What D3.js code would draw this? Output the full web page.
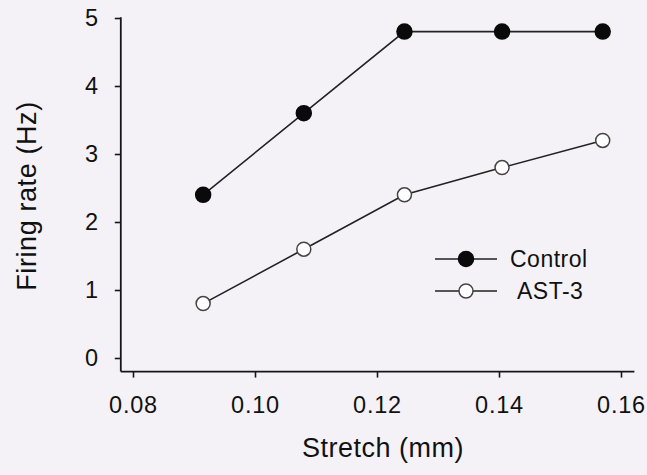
<!DOCTYPE html>
<html>
<head>
<meta charset="utf-8">
<script src="https://cdn.jsdelivr.net/npm/d3@7"></script>
<style>
  body { margin: 0; background: #f4f2f7; }
  svg { display: block; }
  text { font-family: "Liberation Sans", Arial, sans-serif; fill: #111; }
</style>
</head>
<body>
<div id="chart"></div>
<script>
// data
const stretch = [0.0915, 0.108, 0.1245, 0.1405, 0.157];
const control = [2.4, 3.6, 4.8, 4.8, 4.8];
const ast3 = [0.8, 1.6, 2.4, 2.8, 3.2];
const xTicks = [0.08, 0.10, 0.12, 0.14, 0.16];
const yTicks = [0, 1, 2, 3, 4, 5];
const seriesNames = ["Control", "AST-3"];

const w = 647, h = 475;

const x = d3.scaleLinear().domain([0.08, 0.16]).range([133, 621]);
const y = d3.scaleLinear().domain([0, 5]).range([358, 18]);

const svg = d3.select("#chart").append("svg")
    .attr("width", w)
    .attr("height", h);

svg.append("rect")
    .attr("width", w).attr("height", h)
    .attr("fill", "#f4f2f7");

const ink = "#161616";

// axes
const xAxis = d3.axisBottom(x)
    .tickValues(xTicks)
    .tickFormat(d3.format(".2f"))
    .tickSize(6)
    .tickSizeOuter(0)
    .tickPadding(19);

const yAxis = d3.axisLeft(y)
    .tickValues(yTicks)
    .tickFormat(d3.format("d"))
    .tickSize(6)
    .tickSizeOuter(0)
    .tickPadding(16);

const xg = svg.append("g")
    .attr("transform", `translate(0, ${y(-0.2)})`)
    .call(xAxis);

const yg = svg.append("g")
    .attr("transform", `translate(${x(0.078)}, 0)`)
    .call(yAxis);

[xg, yg].forEach(g => {
  g.select(".domain").remove();
  g.selectAll(".tick line").attr("stroke", ink).attr("stroke-width", 1.6);
  g.selectAll(".tick text")
    .attr("font-size", 23.5)
    .attr("letter-spacing", "0.8px")
    .attr("fill", "#111");
});

// axis lines
svg.append("line")
    .attr("x1", x(0.078)).attr("x2", x(0.1622))
    .attr("y1", y(-0.2)).attr("y2", y(-0.2))
    .attr("stroke", ink).attr("stroke-width", 1.8);

svg.append("line")
    .attr("x1", x(0.078)).attr("x2", x(0.078))
    .attr("y1", y(5) - 0.8).attr("y2", y(-0.2))
    .attr("stroke", ink).attr("stroke-width", 1.8);

// axis titles
svg.append("text")
    .attr("x", 383)
    .attr("y", 457)
    .attr("text-anchor", "middle")
    .attr("font-size", 27)
    .attr("letter-spacing", "0.5px")
    .text("Stretch (mm)");

svg.append("text")
    .attr("transform", "translate(36, 196) rotate(-90)")
    .attr("text-anchor", "middle")
    .attr("font-size", 27)
    .attr("letter-spacing", "0.6px")
    .text("Firing rate (Hz)");

// lines and markers
const line = d3.line()
    .x((d, i) => x(stretch[i]))
    .y(d => y(d));

const series = [
  {name: seriesNames[0], values: control, fill: "#0a0a0a", stroke: "#0a0a0a"},
  {name: seriesNames[1], values: ast3, fill: "#ffffff", stroke: "#444"}
];

series.forEach(s => {
  svg.append("path")
      .datum(s.values)
      .attr("d", line)
      .attr("fill", "none")
      .attr("stroke", "#222")
      .attr("stroke-width", 1.6);

  svg.append("g").selectAll("circle")
      .data(s.values)
    .enter().append("circle")
      .attr("cx", (d, i) => x(stretch[i]))
      .attr("cy", d => y(d))
      .attr("r", s.name == "Control" ? 7.5 : 7)
      .attr("fill", s.fill)
      .attr("stroke", s.stroke)
      .attr("stroke-width", 1.5);
});

// legend
const legend = svg.append("g").attr("transform", "translate(435, 259)");
series.forEach((s, i) => {
  const g = legend.append("g").attr("transform", `translate(0, ${i * 32})`);
  g.append("line")
      .attr("x1", 0).attr("x2", 62)
      .attr("stroke", "#222").attr("stroke-width", 1.6);
  g.append("circle")
      .attr("cx", 31).attr("cy", 0)
      .attr("r", s.name == "Control" ? 7.5 : 7)
      .attr("fill", s.fill)
      .attr("stroke", s.stroke)
      .attr("stroke-width", 1.5);
  g.append("text")
      .attr("x", i == 0 ? 75 : 82)
      .attr("y", 8)
      .attr("font-size", 23)
      .attr("letter-spacing", "0.5px")
      .text(s.name);
});
</script>
</body>
</html>
